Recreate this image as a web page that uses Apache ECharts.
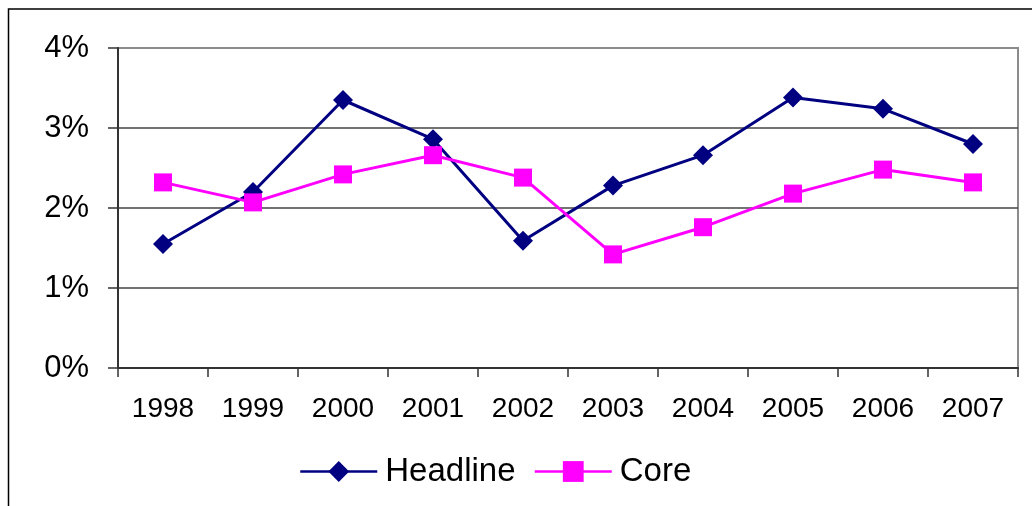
<!DOCTYPE html>
<html>
<head>
<meta charset="utf-8">
<script src="https://cdn.jsdelivr.net/npm/echarts@6/dist/echarts.min.js"></script>
<style>
html,body{margin:0;padding:0;background:#fff;}
#chart{width:1032px;height:506px;}
</style>
</head>
<body>
<div id="chart"></div>
<script>
var years = ['1998','1999','2000','2001','2002','2003','2004','2005','2006','2007'];
var headline = [1.55, 2.20, 3.35, 2.86, 1.59, 2.28, 2.66, 3.38, 3.24, 2.80];
var core = [2.32, 2.07, 2.42, 2.66, 2.38, 1.42, 1.76, 2.18, 2.48, 2.32];
var yTicks = [0, 1, 2, 3, 4];

var FONT = '"Liberation Sans", Arial, sans-serif';
var chart = echarts.init(document.getElementById('chart'), null, {renderer: 'canvas'});
chart.setOption({
  animation: false,
  backgroundColor: '#ffffff',
  graphic: [{
    type: 'rect',
    shape: {x: 8.5, y: 9, width: 1100, height: 600},
    style: {fill: 'none', stroke: '#000', lineWidth: 1.5},
    silent: true
  }],
  grid: {
    left: 118, right: 14, top: 48, bottom: 138,
    show: true, borderColor: '#8c8c8c', borderWidth: 2, backgroundColor: 'transparent'
  },
  legend: {
    left: 299, top: 455, padding: 0,
    itemWidth: 77, itemHeight: 26, itemGap: 18,
    lineStyle: {width: 2.5},
    textStyle: {fontFamily: FONT, fontSize: 33, color: '#000', padding: [0, 0, 0, 3]},
    data: ['Headline', 'Core']
  },
  xAxis: {
    type: 'category',
    data: years,
    boundaryGap: true,
    axisLine: {lineStyle: {color: '#333', width: 2}},
    axisTick: {show: true, length: 9, lineStyle: {color: '#333', width: 1.5}},
    axisLabel: {fontFamily: FONT, fontSize: 28, color: '#000', margin: 27},
    splitLine: {show: false}
  },
  yAxis: {
    type: 'value',
    min: yTicks[0], max: yTicks[yTicks.length - 1], interval: 1,
    axisLine: {show: true, lineStyle: {color: '#333', width: 2}},
    axisTick: {show: true, length: 10, lineStyle: {color: '#333', width: 1.5}},
    axisLabel: {fontFamily: FONT, fontSize: 31, color: '#000', margin: 29,
      formatter: function (v) { return v + '%'; }},
    splitLine: {show: true, lineStyle: {color: ['#444', '#444', '#444', '#444', '#8c8c8c'], width: 1.5}}
  },
  series: [{
    name: 'Headline',
    type: 'line',
    data: headline,
    symbol: 'diamond',
    symbolSize: 20,
    showAllSymbol: true,
    lineStyle: {color: '#000080', width: 3},
    itemStyle: {color: '#000080'},
    z: 2
  }, {
    name: 'Core',
    type: 'line',
    data: core,
    symbol: 'rect',
    symbolSize: 18,
    showAllSymbol: true,
    lineStyle: {color: '#ff00ff', width: 3},
    itemStyle: {color: '#ff00ff'},
    z: 3
  }]
});
</script>
</body>
</html>
